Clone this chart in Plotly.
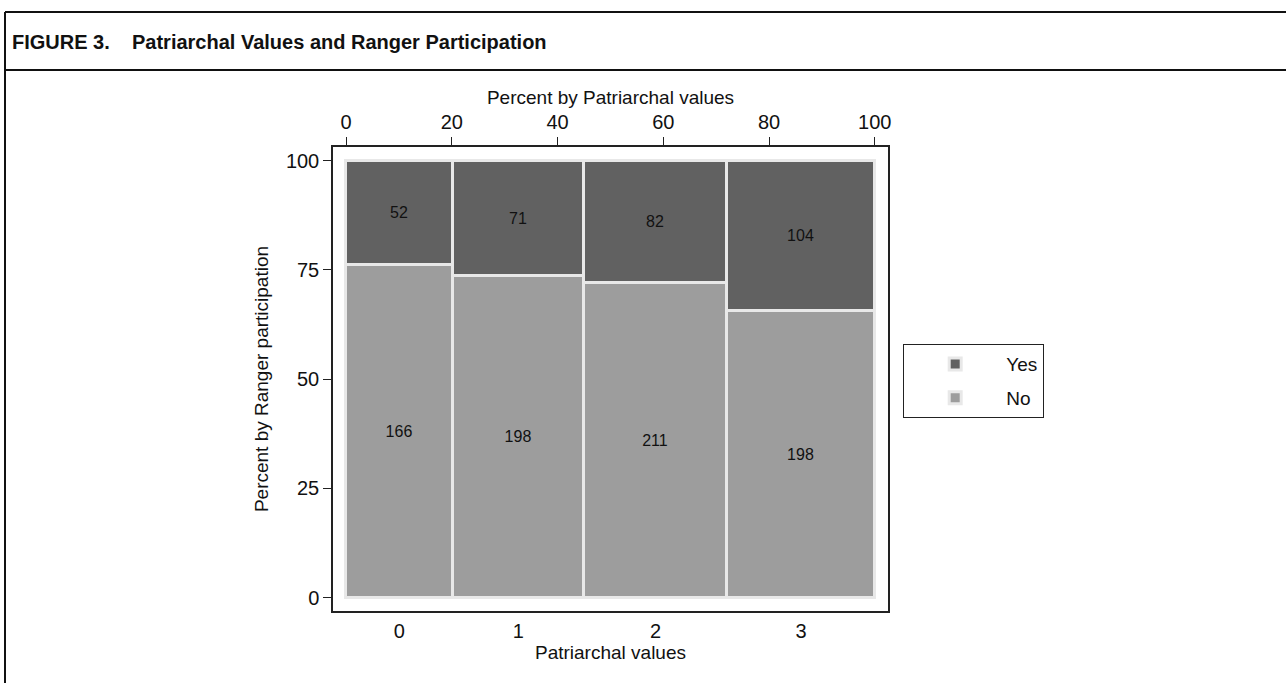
import plotly.graph_objects as go

categories = ["0", "1", "2", "3"]
no_counts = [166, 198, 211, 198]
yes_counts = [52, 71, 82, 104]
colors = {"Yes": "#616161", "No": "#9d9d9d"}
top_ticks = [0, 20, 40, 60, 80, 100]
y_ticks = [0, 25, 50, 75, 100]

totals = [a + b for a, b in zip(no_counts, yes_counts)]
grand = sum(totals)
widths = [t / grand * 100 for t in totals]
lefts = []
acc = 0
for w in widths:
    lefts.append(acc)
    acc += w
centers = [l + w / 2 for l, w in zip(lefts, widths)]
no_pct = [n / t * 100 for n, t in zip(no_counts, totals)]
yes_pct = [y / t * 100 for y, t in zip(yes_counts, totals)]

FONT = "Liberation Sans, Arial, Helvetica, sans-serif"
W, H = 1286, 683
L, R, T, B = 333, 888, 147, 611


def px(x):
    return (x - L) / (R - L)


def py(y):
    return (B - y) / (B - T)


fig = go.Figure()
fig.add_trace(go.Bar(
    name="No", x=centers, width=widths, y=no_pct, base=[0] * 4,
    legendgroup="no", legendrank=2,
    marker=dict(color=colors["No"], line=dict(color="#e8e8e8", width=3)),
    text=[str(v) for v in no_counts], textposition="inside",
    insidetextanchor="middle", textangle=0,
    textfont=dict(color="#111111", size=16, family=FONT),
    xaxis="x", yaxis="y",
))
fig.add_trace(go.Bar(
    name="Yes", x=centers, width=widths, y=yes_pct, base=no_pct,
    legendgroup="yes", legendrank=1,
    marker=dict(color=colors["Yes"], line=dict(color="#e8e8e8", width=3)),
    text=[str(v) for v in yes_counts], textposition="inside",
    insidetextanchor="middle", textangle=0,
    textfont=dict(color="#111111", size=16, family=FONT),
    xaxis="x", yaxis="y",
))
# invisible trace to activate bottom category axis
fig.add_trace(go.Scatter(x=centers, y=[0] * 4, mode="markers",
                         marker=dict(opacity=0), showlegend=False,
                         hoverinfo="skip", xaxis="x2", yaxis="y"))

xr = [-2.46, 102.5]
fig.update_layout(
    width=W, height=H,
    margin=dict(l=L, r=W - R, t=T, b=H - B, pad=0),
    paper_bgcolor="white", plot_bgcolor="white",
    barmode="overlay", bargap=0,
    font=dict(family=FONT, size=19, color="#111111"),
    uniformtext=dict(minsize=16, mode="show"),
    xaxis=dict(
        range=xr, side="top", tickvals=top_ticks,
        ticks="outside", ticklen=8, tickwidth=1.2, tickcolor="#222",
        showline=True, mirror=True, linecolor="#222", linewidth=1.5,
        showgrid=False, zeroline=False,
        tickfont=dict(size=20),
        title=dict(text="Percent by Patriarchal values", font=dict(size=19), standoff=2),
    ),
    xaxis2=dict(
        range=xr, overlaying="x", side="bottom", anchor="y",
        tickvals=centers, ticktext=categories, ticks="",
        showline=False, showgrid=False, zeroline=False,
        tickfont=dict(size=20), ticklabelstandoff=6,
        title=dict(text="Patriarchal values", font=dict(size=19), standoff=0),
    ),
    yaxis=dict(
        range=[-3.04, 103.1], tickvals=y_ticks,
        ticks="outside", ticklen=8, tickwidth=1.2, tickcolor="#222",
        showline=True, mirror=True, linecolor="#222", linewidth=1.5,
        showgrid=False, zeroline=False,
        tickfont=dict(size=20),
        title=dict(text="Percent by Ranger participation", font=dict(size=19), standoff=12),
    ),
    legend=dict(
        x=px(903), y=py(344), xanchor="left", yanchor="top",
        traceorder="grouped", tracegroupgap=6,
        bordercolor="#222", borderwidth=1.2,
        font=dict(size=19), bgcolor="white",
        itemwidth=92,
    ),
    showlegend=True,
)

# figure caption and frame rules
fig.add_annotation(text="<b>FIGURE 3.</b>", xref="paper", yref="paper",
                   x=px(10), y=py(42), xanchor="left", yanchor="middle",
                   showarrow=False, font=dict(size=20, family=FONT, color="#111"))
fig.add_annotation(text="<b>Patriarchal Values and Ranger Participation</b>",
                   xref="paper", yref="paper",
                   x=px(130), y=py(42), xanchor="left", yanchor="middle",
                   showarrow=False, font=dict(size=20, family=FONT, color="#111"))
line_style = dict(color="#111", width=2)
fig.add_shape(type="line", xref="paper", yref="paper",
              x0=px(5), x1=px(1290), y0=py(12), y1=py(12), line=line_style)
fig.add_shape(type="line", xref="paper", yref="paper",
              x0=px(5), x1=px(5), y0=py(12), y1=py(690), line=line_style)
fig.add_shape(type="line", xref="paper", yref="paper",
              x0=px(5), x1=px(1290), y0=py(70), y1=py(70), line=line_style)

fig.write_html("out.html", config={"displayModeBar": False},
               post_script="document.body.style.margin='0';document.body.style.overflow='hidden';")
